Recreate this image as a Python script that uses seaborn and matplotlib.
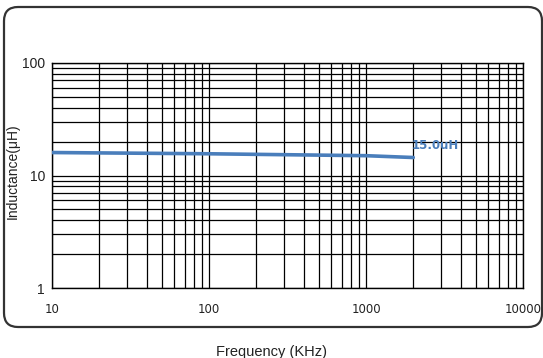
import matplotlib
matplotlib.use("Agg")
import matplotlib.pyplot as plt
import seaborn as sns
import pandas as pd
from matplotlib.patches import FancyBboxPatch
from matplotlib.transforms import IdentityTransform
from matplotlib.ticker import LogLocator, FixedLocator, NullFormatter

# Data
frequency_khz = [10, 100, 1000, 2000]
inductance_uh = [16.0, 15.6, 15.0, 14.45]
x_ticks = [10, 100, 1000, 10000]
x_tick_labels = ["10", "100", "1000", "10000"]
y_ticks = [1, 10, 100]
y_tick_labels = ["1", "10", "100"]
annotation_text = "15.0uH"

df = pd.DataFrame({"Frequency (KHz)": frequency_khz, "Inductance(μH)": inductance_uh})

sns.set_theme(style="white")
plt.rcParams["font.family"] = ["DejaVu Sans"]

fig = plt.figure(figsize=(5.43, 3.58), dpi=100)
ax = fig.add_axes([52 / 543, 1 - 288 / 358, 471 / 543, 225 / 358])

sns.lineplot(data=df, x="Frequency (KHz)", y="Inductance(μH)", ax=ax,
             color="#4a7ebb", linewidth=2.6, zorder=5)

ax.set_xscale("log")
ax.set_yscale("log")
ax.set_xlim(10, 10000)
ax.set_ylim(1, 100)

ax.xaxis.set_major_locator(FixedLocator(x_ticks))
ax.set_xticklabels(x_tick_labels)
ax.yaxis.set_major_locator(FixedLocator(y_ticks))
ax.set_yticklabels(y_tick_labels)
ax.xaxis.set_minor_locator(LogLocator(base=10, subs=range(2, 10)))
ax.yaxis.set_minor_locator(LogLocator(base=10, subs=range(2, 10)))
ax.xaxis.set_minor_formatter(NullFormatter())
ax.yaxis.set_minor_formatter(NullFormatter())

ax.grid(True, which="both", color="black", linewidth=0.9)
ax.tick_params(axis="both", which="both", length=0)
ax.tick_params(axis="x", pad=11, labelsize=8.5, labelcolor="#222222")
ax.tick_params(axis="y", pad=5, labelsize=10, labelcolor="#222222")
for lab in ax.get_yticklabels():
    lab.set_fontfamily("Liberation Sans")

for s in ax.spines.values():
    s.set_color("black")
    s.set_linewidth(1.0)

ax.set_xlabel("Frequency (KHz)", fontsize=10.5, color="#222222", fontfamily="Liberation Sans")
ax.set_ylabel("Inductance(μH)", fontsize=10, color="#222222", fontfamily="Liberation Sans")
ax.xaxis.set_label_coords((272 - 52) / 471, (288 - 345) / 225)
ax.yaxis.set_label_coords((20 - 52) / 471, 0.52)

ax.annotate(annotation_text, xy=(frequency_khz[-1], inductance_uh[-1]),
            xytext=(-1, 4), textcoords="offset points",
            color="#4a7ebb", fontsize=8.5, fontweight="bold", ha="left", va="bottom",
            zorder=6)

border = FancyBboxPatch((4, 358 - 327), 538, 320,
                        boxstyle="round,pad=0,rounding_size=14",
                        transform=IdentityTransform(), facecolor="none",
                        edgecolor="#333333", linewidth=1.6)
fig.add_artist(border)

fig.savefig("out.png", dpi=100)
